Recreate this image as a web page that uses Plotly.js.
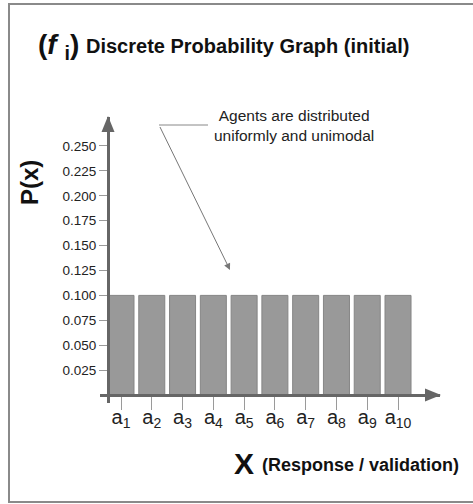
<!DOCTYPE html>
<html>
<head>
<meta charset="utf-8">
<script src="https://cdn.plot.ly/plotly-3.0.1.min.js"></script>
<style>
  html, body { margin: 0; padding: 0; background: #fff; }
  #chart { width: 473px; height: 504px; }
</style>
</head>
<body>
<div id="chart"></div>
<script>
// ---- data ----
const categories = [1, 2, 3, 4, 5, 6, 7, 8, 9, 10];
const tickLabels = ['a<sub>1</sub>', 'a<sub>2</sub>', 'a<sub>3</sub>', 'a<sub>4</sub>', 'a<sub>5</sub>',
                    'a<sub>6</sub>', 'a<sub>7</sub>', 'a<sub>8</sub>', 'a<sub>9</sub>', 'a<sub>10</sub>'];
const probabilities = [0.1, 0.1, 0.1, 0.1, 0.1, 0.1, 0.1, 0.1, 0.1, 0.1];
const yTickVals = [0.025, 0.05, 0.075, 0.1, 0.125, 0.15, 0.175, 0.2, 0.225, 0.25];

// ---- layout geometry (pixels) ----
const W = 473, H = 504;
const L = 100, R = 33, T = 117, B = 101;
const plotW = W - L - R, plotH = H - T - B;
const px = x => (x - L) / plotW;           // pixel x -> paper x
const py = y => (H - B - y) / plotH;       // pixel y -> paper y

const FONT = 'Liberation Sans, Arial, sans-serif';
const AXIS = '#666666';

const trace = {
  type: 'bar',
  x: categories,
  y: probabilities,
  width: 0.845,
  marker: { color: '#999999', line: { color: '#858585', width: 1 } },
  hoverinfo: 'skip'
};

const shapes = [
  // outer frame
  { type: 'rect', xref: 'paper', yref: 'paper', x0: px(9), x1: px(480), y0: py(4), y1: py(502),
    line: { color: '#8a8a8a', width: 2 }, layer: 'below' },
  // y-axis arrow head
  { type: 'path', xref: 'paper', yref: 'paper',
    path: `M ${px(108)} ${py(116)} L ${px(101.5)} ${py(132)} L ${px(114.5)} ${py(132)} Z`,
    fillcolor: AXIS, line: { width: 0 } },
  // x-axis arrow head
  { type: 'path', xref: 'paper', yref: 'paper',
    path: `M ${px(441)} ${py(395)} L ${px(425)} ${py(388.5)} L ${px(425)} ${py(401.5)} Z`,
    fillcolor: AXIS, line: { width: 0 } },
  // annotation leader (horizontal part)
  { type: 'line', xref: 'paper', yref: 'paper', x0: px(159), x1: px(208), y0: py(125), y1: py(125),
    line: { color: '#888888', width: 1 } }
];

const annotations = [
  { xref: 'paper', yref: 'paper', x: px(36), y: py(47), xanchor: 'left', yanchor: 'middle',
    text: '<b>(<i>f </i><sub>i</sub>)</b>', showarrow: false,
    font: { family: FONT, size: 28, color: '#111' } },
  { xref: 'paper', yref: 'paper', x: px(84), y: py(46), xanchor: 'left', yanchor: 'middle',
    text: '<b>Discrete Probability Graph (initial)</b>', showarrow: false,
    font: { family: FONT, size: 20, color: '#111' } },
  { xref: 'paper', yref: 'paper', x: px(29), y: py(183), xanchor: 'center', yanchor: 'middle',
    text: '<b>P(x)</b>', textangle: -90, showarrow: false,
    font: { family: FONT, size: 24, color: '#111' } },
  { xref: 'paper', yref: 'paper', x: px(232), y: py(463), xanchor: 'left', yanchor: 'middle',
    text: '<b>X</b>', showarrow: false,
    font: { family: FONT, size: 30, color: '#111' } },
  { xref: 'paper', yref: 'paper', x: px(260), y: py(465), xanchor: 'left', yanchor: 'middle',
    text: '<b>(Response / validation)</b>', showarrow: false,
    font: { family: FONT, size: 18, color: '#111' } },
  { xref: 'paper', yref: 'paper', x: px(294), y: py(125), xanchor: 'center', yanchor: 'middle',
    text: 'Agents are distributed<br>uniformly and unimodal', showarrow: false, align: 'center',
    font: { family: FONT, size: 15.5, color: '#222' } },
  { xref: 'paper', yref: 'paper', x: px(230), y: py(270), text: ' ', showarrow: true,
    ax: -71, ay: -145, arrowhead: 2, arrowsize: 1.3, arrowwidth: 1, arrowcolor: '#777', standoff: 0,
    font: { size: 1 } }
];

const layout = {
  width: W, height: H,
  margin: { l: L, r: R, t: T, b: B, pad: 0 },
  paper_bgcolor: '#ffffff', plot_bgcolor: 'rgba(0,0,0,0)',
  showlegend: false,
  font: { family: FONT, color: '#222' },
  xaxis: {
    range: [0.3177, 11.364], fixedrange: true,
    tickvals: categories, ticktext: tickLabels,
    ticks: 'outside', ticklen: 13, tickwidth: 1, tickcolor: '#9a9a9a',
    ticklabelstandoff: -10,
    tickfont: { family: FONT, size: 20, color: '#222' },
    showline: true, linecolor: AXIS, linewidth: 3,
    showgrid: false, zeroline: false,
    anchor: 'free', position: (H - B - 395) / plotH
  },
  yaxis: {
    range: [-0.00803, 0.2791], fixedrange: true,
    tickvals: yTickVals, tickformat: '.3f',
    ticks: 'outside', ticklen: 8, tickwidth: 1, tickcolor: '#9a9a9a',
    tickfont: { family: FONT, size: 13.5, color: '#222' },
    showline: true, linecolor: AXIS, linewidth: 3,
    showgrid: false, zeroline: false,
    anchor: 'free', position: px(108)
  },
  shapes: shapes,
  annotations: annotations
};

Plotly.newPlot('chart', [trace], layout, { displayModeBar: false, staticPlot: true });
</script>
</body>
</html>
